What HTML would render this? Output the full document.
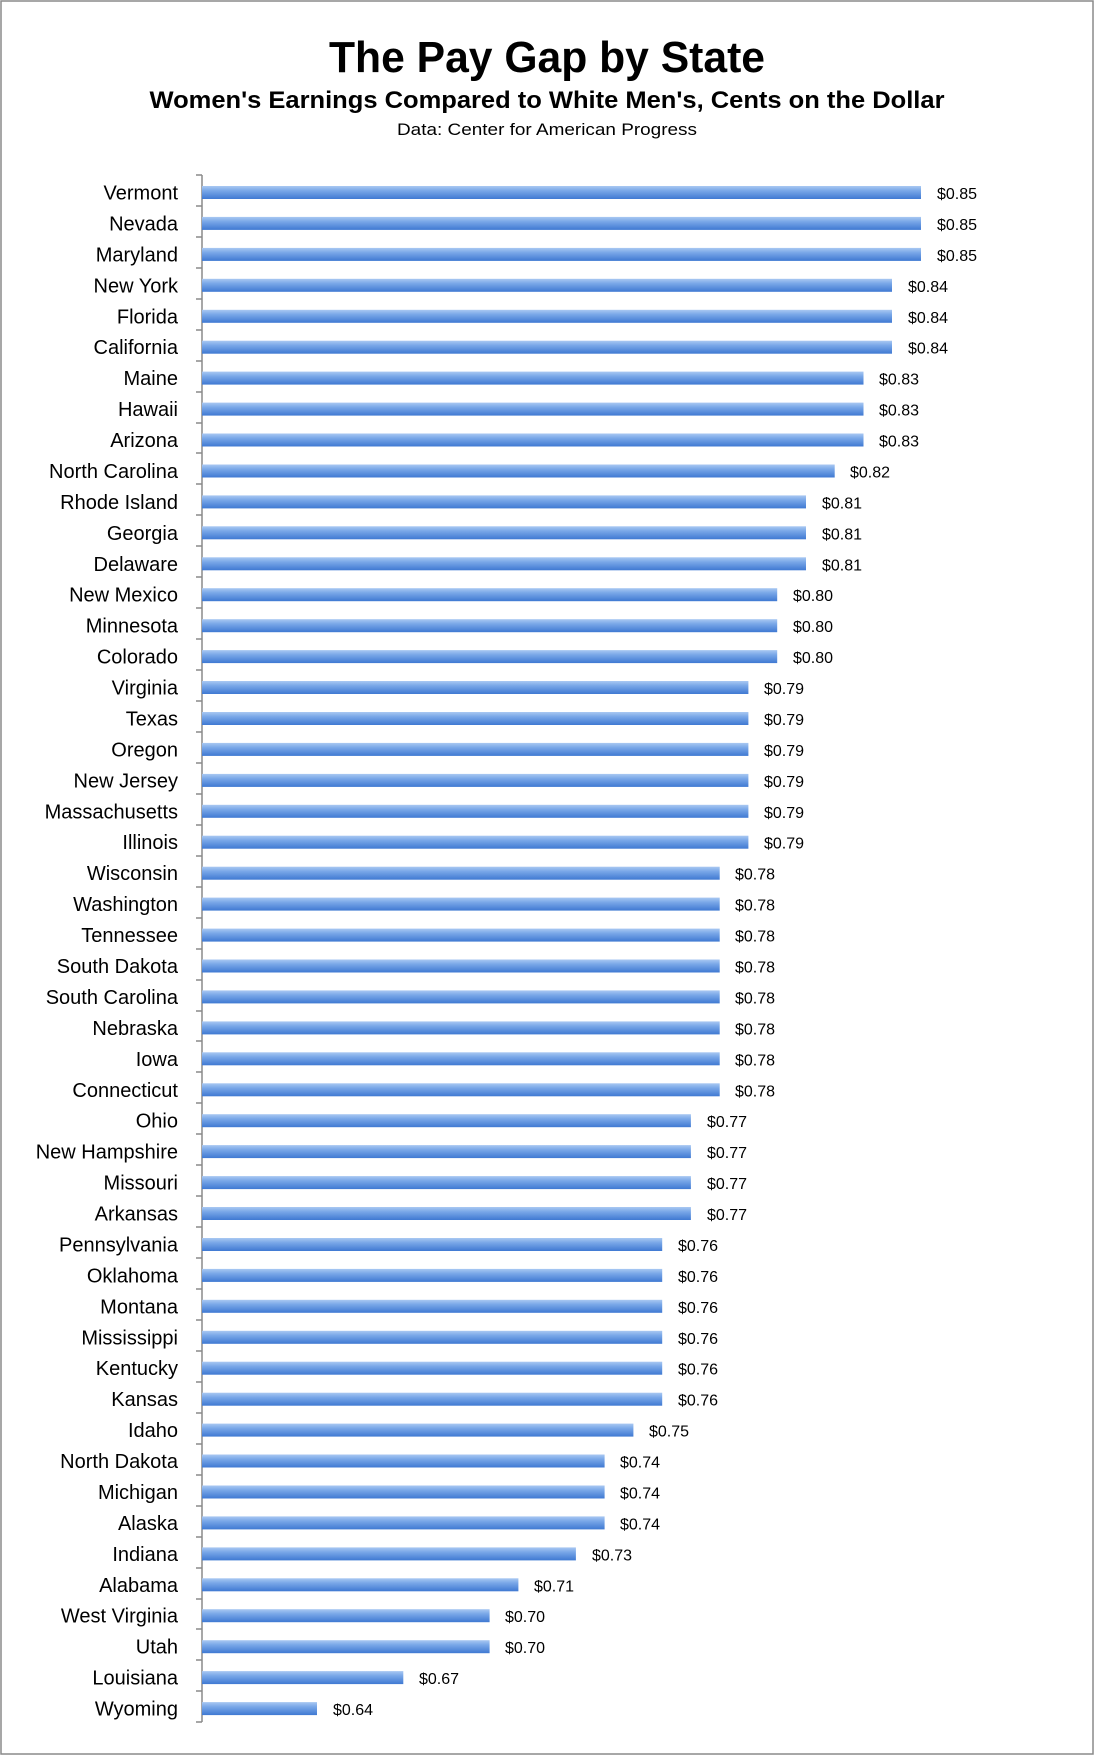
<!DOCTYPE html>
<html><head><meta charset="utf-8"><style>
html,body{margin:0;padding:0;background:#fff}
svg{display:block}
.s{font-family:"Liberation Sans",sans-serif;font-size:20px;fill:#000;text-anchor:end}
.v{font-family:"Liberation Sans",sans-serif;font-size:16px;fill:#000}
</style></head><body>
<svg width="1094" height="1755" viewBox="0 0 1094 1755" xmlns="http://www.w3.org/2000/svg">
<defs><linearGradient id="g" x1="0" y1="0" x2="0" y2="1">
<stop offset="0" stop-color="#a9c8f2"/><stop offset="0.35" stop-color="#7aa8e8"/><stop offset="1" stop-color="#3f79d2"/></linearGradient></defs>
<rect x="1" y="1" width="1092" height="1753" fill="#fff" stroke="#8a8a8a" stroke-width="1.5"/>
<text x="547" y="72" font-family="Liberation Sans,sans-serif" font-weight="bold" font-size="44" text-anchor="middle" textLength="436" lengthAdjust="spacingAndGlyphs">The Pay Gap by State</text>
<text x="547" y="108" font-family="Liberation Sans,sans-serif" font-weight="bold" font-size="24" text-anchor="middle" textLength="795" lengthAdjust="spacingAndGlyphs">Women's Earnings Compared to White Men's, Cents on the Dollar</text>
<text x="547" y="135" font-family="Liberation Sans,sans-serif" font-size="17" text-anchor="middle" textLength="300" lengthAdjust="spacingAndGlyphs">Data: Center for American Progress</text>
<path d="M202 175V1722M196 175H202M196 206H202M196 237H202M196 268H202M196 299H202M196 330H202M196 361H202M196 392H202M196 423H202M196 453H202M196 484H202M196 515H202M196 546H202M196 577H202M196 608H202M196 639H202M196 670H202M196 701H202M196 732H202M196 763H202M196 794H202M196 825H202M196 856H202M196 887H202M196 918H202M196 949H202M196 980H202M196 1011H202M196 1041H202M196 1072H202M196 1103H202M196 1134H202M196 1165H202M196 1196H202M196 1227H202M196 1258H202M196 1289H202M196 1320H202M196 1351H202M196 1382H202M196 1413H202M196 1444H202M196 1475H202M196 1506H202M196 1537H202M196 1568H202M196 1599H202M196 1629H202M196 1660H202M196 1691H202M196 1722H202" stroke="#8a8a8a" stroke-width="1.5" fill="none"/>
<g transform="translate(0,1.5)">
<g transform="translate(0,190.5)"><rect x="202" y="-6" width="719" height="13" fill="url(#g)"/><text class="s" x="178" y="7.5">Vermont</text><text class="v" x="937" y="7">$0.85</text></g>
<g transform="translate(0,221.4)"><rect x="202" y="-6" width="719" height="13" fill="url(#g)"/><text class="s" x="178" y="7.5">Nevada</text><text class="v" x="937" y="7">$0.85</text></g>
<g transform="translate(0,252.4)"><rect x="202" y="-6" width="719" height="13" fill="url(#g)"/><text class="s" x="178" y="7.5">Maryland</text><text class="v" x="937" y="7">$0.85</text></g>
<g transform="translate(0,283.3)"><rect x="202" y="-6" width="690" height="13" fill="url(#g)"/><text class="s" x="178" y="7.5">New York</text><text class="v" x="908" y="7">$0.84</text></g>
<g transform="translate(0,314.3)"><rect x="202" y="-6" width="690" height="13" fill="url(#g)"/><text class="s" x="178" y="7.5">Florida</text><text class="v" x="908" y="7">$0.84</text></g>
<g transform="translate(0,345.2)"><rect x="202" y="-6" width="690" height="13" fill="url(#g)"/><text class="s" x="178" y="7.5">California</text><text class="v" x="908" y="7">$0.84</text></g>
<g transform="translate(0,376.1)"><rect x="202" y="-6" width="661.5" height="13" fill="url(#g)"/><text class="s" x="178" y="7.5">Maine</text><text class="v" x="879" y="7">$0.83</text></g>
<g transform="translate(0,407.1)"><rect x="202" y="-6" width="661.5" height="13" fill="url(#g)"/><text class="s" x="178" y="7.5">Hawaii</text><text class="v" x="879" y="7">$0.83</text></g>
<g transform="translate(0,438.0)"><rect x="202" y="-6" width="661.5" height="13" fill="url(#g)"/><text class="s" x="178" y="7.5">Arizona</text><text class="v" x="879" y="7">$0.83</text></g>
<g transform="translate(0,469.0)"><rect x="202" y="-6" width="632.7" height="13" fill="url(#g)"/><text class="s" x="178" y="7.5">North Carolina</text><text class="v" x="850" y="7">$0.82</text></g>
<g transform="translate(0,499.9)"><rect x="202" y="-6" width="604" height="13" fill="url(#g)"/><text class="s" x="178" y="7.5">Rhode Island</text><text class="v" x="822" y="7">$0.81</text></g>
<g transform="translate(0,530.8)"><rect x="202" y="-6" width="604" height="13" fill="url(#g)"/><text class="s" x="178" y="7.5">Georgia</text><text class="v" x="822" y="7">$0.81</text></g>
<g transform="translate(0,561.8)"><rect x="202" y="-6" width="604" height="13" fill="url(#g)"/><text class="s" x="178" y="7.5">Delaware</text><text class="v" x="822" y="7">$0.81</text></g>
<g transform="translate(0,592.7)"><rect x="202" y="-6" width="575.2" height="13" fill="url(#g)"/><text class="s" x="178" y="7.5">New Mexico</text><text class="v" x="793" y="7">$0.80</text></g>
<g transform="translate(0,623.7)"><rect x="202" y="-6" width="575.2" height="13" fill="url(#g)"/><text class="s" x="178" y="7.5">Minnesota</text><text class="v" x="793" y="7">$0.80</text></g>
<g transform="translate(0,654.6)"><rect x="202" y="-6" width="575.2" height="13" fill="url(#g)"/><text class="s" x="178" y="7.5">Colorado</text><text class="v" x="793" y="7">$0.80</text></g>
<g transform="translate(0,685.5)"><rect x="202" y="-6" width="546.4" height="13" fill="url(#g)"/><text class="s" x="178" y="7.5">Virginia</text><text class="v" x="764" y="7">$0.79</text></g>
<g transform="translate(0,716.5)"><rect x="202" y="-6" width="546.4" height="13" fill="url(#g)"/><text class="s" x="178" y="7.5">Texas</text><text class="v" x="764" y="7">$0.79</text></g>
<g transform="translate(0,747.4)"><rect x="202" y="-6" width="546.4" height="13" fill="url(#g)"/><text class="s" x="178" y="7.5">Oregon</text><text class="v" x="764" y="7">$0.79</text></g>
<g transform="translate(0,778.4)"><rect x="202" y="-6" width="546.4" height="13" fill="url(#g)"/><text class="s" x="178" y="7.5">New Jersey</text><text class="v" x="764" y="7">$0.79</text></g>
<g transform="translate(0,809.3)"><rect x="202" y="-6" width="546.4" height="13" fill="url(#g)"/><text class="s" x="178" y="7.5">Massachusetts</text><text class="v" x="764" y="7">$0.79</text></g>
<g transform="translate(0,840.2)"><rect x="202" y="-6" width="546.4" height="13" fill="url(#g)"/><text class="s" x="178" y="7.5">Illinois</text><text class="v" x="764" y="7">$0.79</text></g>
<g transform="translate(0,871.2)"><rect x="202" y="-6" width="517.7" height="13" fill="url(#g)"/><text class="s" x="178" y="7.5">Wisconsin</text><text class="v" x="735" y="7">$0.78</text></g>
<g transform="translate(0,902.1)"><rect x="202" y="-6" width="517.7" height="13" fill="url(#g)"/><text class="s" x="178" y="7.5">Washington</text><text class="v" x="735" y="7">$0.78</text></g>
<g transform="translate(0,933.1)"><rect x="202" y="-6" width="517.7" height="13" fill="url(#g)"/><text class="s" x="178" y="7.5">Tennessee</text><text class="v" x="735" y="7">$0.78</text></g>
<g transform="translate(0,964.0)"><rect x="202" y="-6" width="517.7" height="13" fill="url(#g)"/><text class="s" x="178" y="7.5">South Dakota</text><text class="v" x="735" y="7">$0.78</text></g>
<g transform="translate(0,994.9)"><rect x="202" y="-6" width="517.7" height="13" fill="url(#g)"/><text class="s" x="178" y="7.5">South Carolina</text><text class="v" x="735" y="7">$0.78</text></g>
<g transform="translate(0,1025.9)"><rect x="202" y="-6" width="517.7" height="13" fill="url(#g)"/><text class="s" x="178" y="7.5">Nebraska</text><text class="v" x="735" y="7">$0.78</text></g>
<g transform="translate(0,1056.8)"><rect x="202" y="-6" width="517.7" height="13" fill="url(#g)"/><text class="s" x="178" y="7.5">Iowa</text><text class="v" x="735" y="7">$0.78</text></g>
<g transform="translate(0,1087.8)"><rect x="202" y="-6" width="517.7" height="13" fill="url(#g)"/><text class="s" x="178" y="7.5">Connecticut</text><text class="v" x="735" y="7">$0.78</text></g>
<g transform="translate(0,1118.7)"><rect x="202" y="-6" width="488.9" height="13" fill="url(#g)"/><text class="s" x="178" y="7.5">Ohio</text><text class="v" x="707" y="7">$0.77</text></g>
<g transform="translate(0,1149.6)"><rect x="202" y="-6" width="488.9" height="13" fill="url(#g)"/><text class="s" x="178" y="7.5">New Hampshire</text><text class="v" x="707" y="7">$0.77</text></g>
<g transform="translate(0,1180.6)"><rect x="202" y="-6" width="488.9" height="13" fill="url(#g)"/><text class="s" x="178" y="7.5">Missouri</text><text class="v" x="707" y="7">$0.77</text></g>
<g transform="translate(0,1211.5)"><rect x="202" y="-6" width="488.9" height="13" fill="url(#g)"/><text class="s" x="178" y="7.5">Arkansas</text><text class="v" x="707" y="7">$0.77</text></g>
<g transform="translate(0,1242.5)"><rect x="202" y="-6" width="460.2" height="13" fill="url(#g)"/><text class="s" x="178" y="7.5">Pennsylvania</text><text class="v" x="678" y="7">$0.76</text></g>
<g transform="translate(0,1273.4)"><rect x="202" y="-6" width="460.2" height="13" fill="url(#g)"/><text class="s" x="178" y="7.5">Oklahoma</text><text class="v" x="678" y="7">$0.76</text></g>
<g transform="translate(0,1304.3)"><rect x="202" y="-6" width="460.2" height="13" fill="url(#g)"/><text class="s" x="178" y="7.5">Montana</text><text class="v" x="678" y="7">$0.76</text></g>
<g transform="translate(0,1335.3)"><rect x="202" y="-6" width="460.2" height="13" fill="url(#g)"/><text class="s" x="178" y="7.5">Mississippi</text><text class="v" x="678" y="7">$0.76</text></g>
<g transform="translate(0,1366.2)"><rect x="202" y="-6" width="460.2" height="13" fill="url(#g)"/><text class="s" x="178" y="7.5">Kentucky</text><text class="v" x="678" y="7">$0.76</text></g>
<g transform="translate(0,1397.2)"><rect x="202" y="-6" width="460.2" height="13" fill="url(#g)"/><text class="s" x="178" y="7.5">Kansas</text><text class="v" x="678" y="7">$0.76</text></g>
<g transform="translate(0,1428.1)"><rect x="202" y="-6" width="431.4" height="13" fill="url(#g)"/><text class="s" x="178" y="7.5">Idaho</text><text class="v" x="649" y="7">$0.75</text></g>
<g transform="translate(0,1459.0)"><rect x="202" y="-6" width="402.6" height="13" fill="url(#g)"/><text class="s" x="178" y="7.5">North Dakota</text><text class="v" x="620" y="7">$0.74</text></g>
<g transform="translate(0,1490.0)"><rect x="202" y="-6" width="402.6" height="13" fill="url(#g)"/><text class="s" x="178" y="7.5">Michigan</text><text class="v" x="620" y="7">$0.74</text></g>
<g transform="translate(0,1520.9)"><rect x="202" y="-6" width="402.6" height="13" fill="url(#g)"/><text class="s" x="178" y="7.5">Alaska</text><text class="v" x="620" y="7">$0.74</text></g>
<g transform="translate(0,1551.9)"><rect x="202" y="-6" width="373.9" height="13" fill="url(#g)"/><text class="s" x="178" y="7.5">Indiana</text><text class="v" x="592" y="7">$0.73</text></g>
<g transform="translate(0,1582.8)"><rect x="202" y="-6" width="316.4" height="13" fill="url(#g)"/><text class="s" x="178" y="7.5">Alabama</text><text class="v" x="534" y="7">$0.71</text></g>
<g transform="translate(0,1613.7)"><rect x="202" y="-6" width="287.6" height="13" fill="url(#g)"/><text class="s" x="178" y="7.5">West Virginia</text><text class="v" x="505" y="7">$0.70</text></g>
<g transform="translate(0,1644.7)"><rect x="202" y="-6" width="287.6" height="13" fill="url(#g)"/><text class="s" x="178" y="7.5">Utah</text><text class="v" x="505" y="7">$0.70</text></g>
<g transform="translate(0,1675.6)"><rect x="202" y="-6" width="201.3" height="13" fill="url(#g)"/><text class="s" x="178" y="7.5">Louisiana</text><text class="v" x="419" y="7">$0.67</text></g>
<g transform="translate(0,1706.6)"><rect x="202" y="-6" width="115" height="13" fill="url(#g)"/><text class="s" x="178" y="7.5">Wyoming</text><text class="v" x="333" y="7">$0.64</text></g>
</g>
</svg>
</body></html>
